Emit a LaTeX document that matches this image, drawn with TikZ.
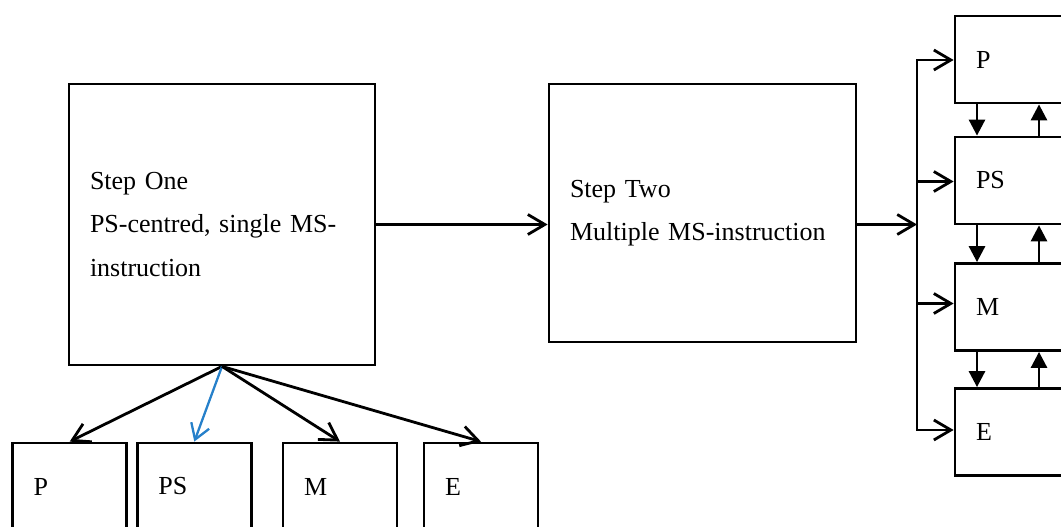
\documentclass[tikz,border=0pt]{standalone}
\usepackage{fontspec}
\setmainfont{Liberation Serif}
\usetikzlibrary{arrows.meta}
\definecolor{linkblue}{RGB}{38,128,202}
\begin{document}
\begin{tikzpicture}[x=1pt,y=-1pt,line width=2.8pt,
  font=\fontsize{26}{43.5}\selectfont,
  boxnode/.style={draw, rectangle, inner ysep=0pt, inner xsep=21pt, align=left},
  smallbox/.style={boxnode, text width=72pt, minimum width=114pt, minimum height=87pt},
  sidebox/.style={boxnode, text width=108pt, minimum width=150pt, minimum height=87pt},
  barb/.style={-{Straight Barb[length=17pt,width=20pt]}},
  dblbarb/.style={{Straight Barb[length=17pt,width=20pt]}-{Straight Barb[length=17pt,width=20pt]}},
  tri/.style={-{Triangle[length=16pt,width=16pt]}},
  bluearrow/.style={draw=linkblue, line width=2.3pt, -{Straight Barb[length=15pt,width=19pt]}}
]
\useasboundingbox (0,0) rectangle (1061,527);
\clip (0,0) rectangle (1061,527);

% main boxes
\node[boxnode, text width=264pt, minimum width=306pt, minimum height=281pt] (s1) at (222,224.5)
  {Step One\\PS-centred, single MS-\\instruction};
\node[boxnode, text width=265pt, minimum width=307pt, minimum height=258pt] (s2) at (702.5,213)
  {Step Two\\Multiple MS-instruction};

% bottom boxes
\node[smallbox] (bP)  at (69.7,486.5)  {P};
\node[smallbox] (bPS) at (194.3,486.5) {PS};
\node[smallbox] (bM)  at (340,486.5)   {M};
\node[smallbox] (bE)  at (481,486.5)   {E};

% right column boxes
\node[sidebox] (rP)  at (1030,59.5)  {P};
\node[sidebox] (rPS) at (1030,180.5) {PS};
\node[sidebox] (rM)  at (1030,307)   {M};
\node[sidebox] (rE)  at (1030,432)   {E};

% bus coordinates
\coordinate (b1) at (917,60);
\coordinate (b2) at (917,181.5);
\coordinate (b3) at (917,303.5);
\coordinate (b4) at (917,430);
\coordinate (dx) at (977,0);
\coordinate (ux) at (1039,0);

% step one -> step two
\draw[barb] (s1.east) -- (s2.west |- s1.east);
% step two -> bus
\draw[barb] (s2.east |- s1.east) -- (b1 |- s1.east);

% bus and branches
\draw[dblbarb] (b1 -| rP.west) -- (b1) -- (b4) -- (b4 -| rE.west);
\draw[barb] (b2) -- (b2 -| rPS.west);
\draw[barb] (b3) -- (b3 -| rM.west);

% feedback arrows between right boxes
\draw[tri] (rP.south -| dx) -- (rPS.north -| dx);
\draw[tri] (rPS.north -| ux) -- (rP.south -| ux);
\draw[tri] (rPS.south -| dx) -- (rM.north -| dx);
\draw[tri] (rM.north -| ux) -- (rPS.south -| ux);
\draw[tri] (rM.south -| dx) -- (rE.north -| dx);
\draw[tri] (rE.north -| ux) -- (rM.south -| ux);

% fan from step one
\draw[barb] (s1.south) -- (bP.north);
\draw[bluearrow] (s1.south) -- (bPS.north);
\draw[barb] (s1.south) -- (bM.north);
\draw[barb] (s1.south) -- (bE.north);
\end{tikzpicture}
\end{document}
